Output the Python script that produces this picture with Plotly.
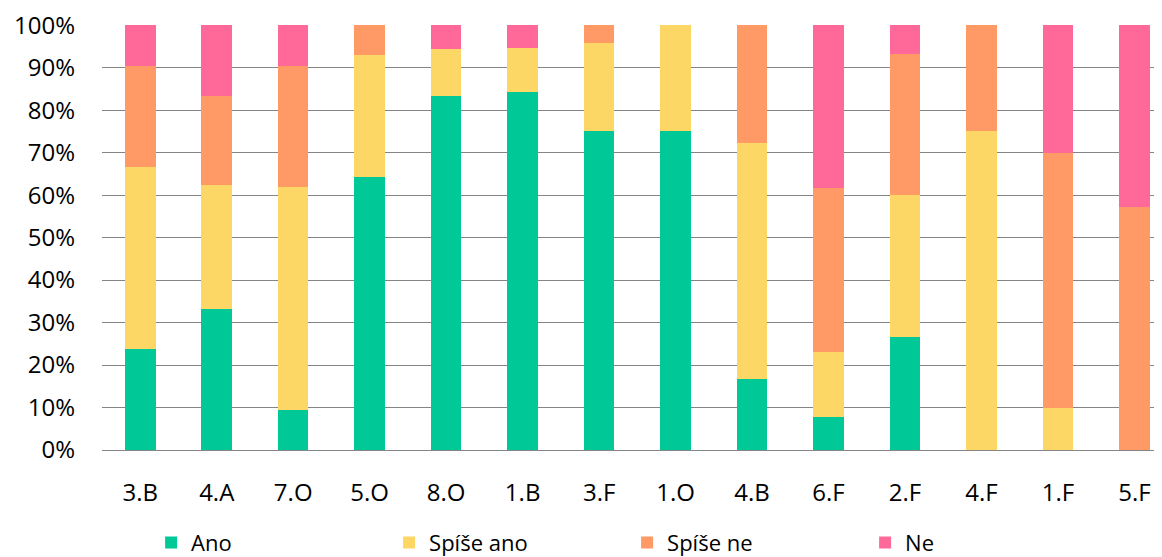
import plotly.graph_objects as go

categories = ["3.B", "4.A", "7.O", "5.O", "8.O", "1.B", "3.F", "1.O", "4.B", "6.F", "2.F", "4.F", "1.F", "5.F"]
ano = [23.8, 33.3, 9.5, 64.3, 83.3, 84.2, 75.0, 75.0, 16.7, 7.7, 26.7, 0, 0, 0]
spise_ano = [42.9, 29.2, 52.4, 28.6, 11.1, 10.5, 20.8, 25.0, 55.6, 15.4, 33.3, 75.0, 10.0, 0]
spise_ne = [23.8, 20.8, 28.6, 7.1, 0, 0, 4.2, 0, 27.8, 38.5, 33.3, 25.0, 60.0, 57.1]
ne = [9.5, 16.7, 9.5, 0, 5.6, 5.3, 0, 0, 0, 38.5, 6.7, 0, 30.0, 42.9]

series = [
    ("Ano", ano, "#00C997"),
    ("Spíše ano", spise_ano, "#FDD766"),
    ("Spíše ne", spise_ne, "#FF9966"),
    ("Ne", ne, "#FF6999"),
]

fig = go.Figure()
for name, vals, color in series:
    fig.add_trace(go.Bar(name=name, x=categories, y=vals, marker=dict(color=color, line=dict(width=0))))

font_family = "Open Sans, Liberation Sans, sans-serif"
fig.update_layout(
    barmode="stack",
    bargap=0.6,
    width=1154,
    height=549,
    margin=dict(l=94, r=0, t=17, b=107, autoexpand=False),
    plot_bgcolor="white",
    paper_bgcolor="white",
    font=dict(family=font_family, size=24, color="#000000"),
    showlegend=True,
    legend=dict(
        orientation="h",
        xref="container", yref="container",
        x=0.124, xanchor="left",
        y=0.026, yanchor="middle",
        entrywidth=193, entrywidthmode="pixels",
        font=dict(size=22),
        traceorder="normal",
        bgcolor="rgba(0,0,0,0)",
    ),
    xaxis=dict(
        range=[-0.5, 13.36],
        tickfont=dict(size=24),
        ticklabelstandoff=26,
        showgrid=False,
        showline=False,
        automargin=False,
    ),
    yaxis=dict(
        range=[0, 100.05],
        tickmode="linear",
        tick0=0,
        dtick=10,
        ticksuffix="%",
        tickfont=dict(size=24),
        ticklabelstandoff=26,
        ticklabeloverflow="allow",
        showgrid=True,
        gridcolor="#858585",
        gridwidth=1.3,
        zeroline=True,
        zerolinecolor="#858585",
        zerolinewidth=1.3,
        showline=False,
        automargin=False,
    ),
)

fig.write_html("out.html")
